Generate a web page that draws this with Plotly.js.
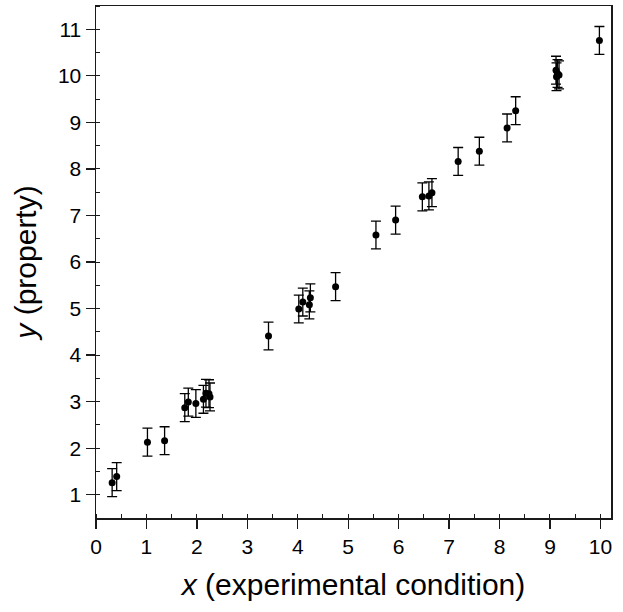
<!DOCTYPE html>
<html>
<head>
<meta charset="utf-8">
<script src="https://cdn.plot.ly/plotly-3.0.1.min.js"></script>
<style>html,body{margin:0;padding:0;background:#fff;}#chart{width:623px;height:612px;}</style>
</head>
<body>
<div id="chart"></div>
<script>
// experimental condition (x) values
const xValues = [0.32, 0.41, 1.02, 1.36, 1.76, 1.83, 1.98, 2.13, 2.18, 2.24, 2.26,
                 3.42, 4.02, 4.10, 4.23, 4.25, 4.75, 5.55, 5.94,
                 6.47, 6.60, 6.66, 7.18, 7.60, 8.15, 8.32,
                 9.12, 9.15, 9.18, 9.13, 9.98];
// measured property (y) values
const yValues = [1.26, 1.39, 2.13, 2.16, 2.87, 2.99, 2.96, 3.05, 3.18, 3.17, 3.10,
                 4.41, 4.99, 5.14, 5.08, 5.23, 5.47, 6.58, 6.90,
                 7.40, 7.42, 7.49, 8.16, 8.38, 8.88, 9.25,
                 10.12, 10.05, 10.02, 9.98, 10.76];
// error bar half-lengths (y)
const yErrors = [0.30, 0.30, 0.30, 0.30, 0.30, 0.30, 0.30, 0.30, 0.30, 0.30, 0.30,
                 0.30, 0.30, 0.30, 0.30, 0.30, 0.30, 0.30, 0.30,
                 0.30, 0.30, 0.30, 0.30, 0.30, 0.30, 0.30,
                 0.30, 0.30, 0.30, 0.30, 0.30];
const xTickVals = [0, 1, 2, 3, 4, 5, 6, 7, 8, 9, 10];
const yTickVals = [1, 2, 3, 4, 5, 6, 7, 8, 9, 10, 11];

const trace = {
  x: xValues,
  y: yValues,
  type: 'scatter',
  mode: 'markers',
  marker: {color: '#000', size: 7},
  error_y: {type: 'data', array: yErrors, visible: true, color: '#000', thickness: 1.3, width: 5},
  hoverinfo: 'x+y',
  showlegend: false
};

const fontFam = '"Liberation Sans", Arial, Helvetica, sans-serif';
const axisCommon = {
  showgrid: false,
  zeroline: false,
  showline: true,
  linecolor: '#1a1a1a',
  linewidth: 1.5,
  mirror: true,
  ticks: 'outside',
  ticklen: 9,
  tickwidth: 1.3,
  tickcolor: '#1a1a1a',
  tickfont: {family: fontFam, size: 21, color: '#000'},
  minor: {ticks: 'inside', ticklen: 4, tickwidth: 1, tickcolor: '#1a1a1a', dtick: 0.5, showgrid: false}
};

const layout = {
  width: 623,
  height: 612,
  margin: {l: 96, r: 12, t: 6, b: 94},
  paper_bgcolor: '#fff',
  plot_bgcolor: '#fff',
  font: {family: fontFam, color: '#000'},
  xaxis: Object.assign({}, axisCommon, {
    range: [0, 10.21],
    tickmode: 'array',
    tickvals: xTickVals,
    ticktext: xTickVals.map(String),
    title: {text: '<i>x</i> (experimental condition)', font: {family: fontFam, size: 30, color: '#000'}, standoff: 17}
  }),
  yaxis: Object.assign({}, axisCommon, {
    range: [0.5, 11.5],
    tickmode: 'array',
    tickvals: yTickVals,
    ticktext: yTickVals.map(String),
    title: {text: '<i>y</i> (property)', font: {family: fontFam, size: 30, color: '#000'}, standoff: 12}
  })
};

Plotly.newPlot('chart', [trace], layout, {displayModeBar: false, staticPlot: true});
</script>
</body>
</html>
